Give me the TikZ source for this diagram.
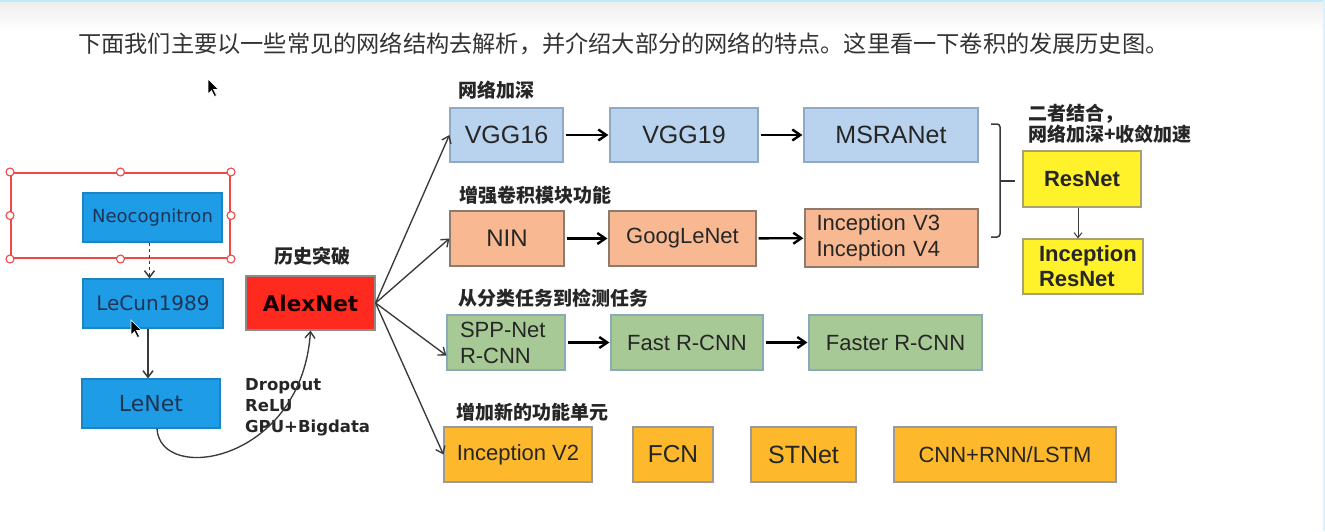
\documentclass[tikz,border=0pt]{standalone}
\usepackage{fontspec}
\setmainfont{Liberation Sans}
\newfontfamily\cjk{Noto Sans CJK SC}
\newfontfamily\dvs{DejaVu Sans}
\usetikzlibrary{arrows.meta}
\definecolor{leblue}{HTML}{1E9CE6}
\definecolor{letext}{HTML}{1F3454}
\definecolor{alexred}{HTML}{FF2A1F}
\definecolor{vggfill}{HTML}{B9D3EE}
\definecolor{vggline}{HTML}{8FA9C6}
\definecolor{ninfill}{HTML}{F8B992}
\definecolor{ninline}{HTML}{8E7B70}
\definecolor{sppfill}{HTML}{A7C995}
\definecolor{sppline}{HTML}{8AAAB8}
\definecolor{newfill}{HTML}{FDB92B}
\definecolor{newline}{HTML}{9A9A9A}
\definecolor{resfill}{HTML}{FFF12A}
\definecolor{resline}{HTML}{A8A070}
\definecolor{selred}{HTML}{F04848}
\definecolor{darkline}{HTML}{3A3A3A}

\begin{document}
\begin{tikzpicture}[x=1pt,y=-1pt,
  box/.style={line width=1.2pt, inner sep=0pt, align=center, text=black!85,
    font=\fontsize{22}{26}\selectfont},
  lebox/.style={box, fill=leblue, draw=leblue!85!black, text=letext, font=\dvs\fontsize{#1}{22}\selectfont},
  vggbox/.style={box, fill=vggfill, draw=vggline, font=\fontsize{25}{28}\selectfont},
  ninbox/.style={box, fill=ninfill, draw=ninline},
  sppbox/.style={box, fill=sppfill, draw=sppline},
  newbox/.style={box, fill=newfill, draw=newline},
  resbox/.style={box, fill=resfill, draw=resline, font=\bfseries\fontsize{22}{25}\selectfont},
  grouplabel/.style={anchor=west, inner sep=0pt, text=black!85, font=\cjk\bfseries\fontsize{19}{22}\selectfont},
  rowarr/.style={-{Straight Barb[length=8pt,width=11pt]}, line width=2.4pt, shorten <=2pt, shorten >=1pt},
  thinarr/.style={-{Straight Barb[length=6.5pt,width=10pt]}, line width=1.35pt, darkline},
  handle/.style={draw=selred, fill=white, line width=1.1pt}]
 \useasboundingbox (0,0) rectangle (1325,531);
 \fill[white] (0,0) rectangle (1325,531);
 \shade[top color=black!7, bottom color=white] (0,0) rectangle (1325,32);
 \fill[cyan!25] (0,0) rectangle (1325,2);
 \fill[cyan!15] (1323,0) rectangle (1325,531);

 % caption line
 \node[anchor=west, inner sep=0pt, text=black!80, font=\cjk\fontsize{23.2}{26}\selectfont] (title) at (78,44)
   {下面我们主要以一些常见的网络结构去解析，并介绍大部分的网络的特点。这里看一下卷积的发展历史图。};

 % early networks
 \node[lebox=18, minimum width=139, minimum height=49] (neo) at (152.5,217.5) {Neocognitron};
 \node[lebox=20, minimum width=140, minimum height=49] (lecun) at (153,303.5) {LeCun1989};
 \node[lebox=22, minimum width=138, minimum height=49] (lenet) at (151,403.5) {LeNet};
 \node[draw=selred, line width=2pt, minimum width=219, minimum height=85] (sel) at (120.5,215.5) {};
 \foreach \a in {north west,north,north east,east,south east,south,south west,west}
  \draw[handle] (sel.\a) circle (4);
 \draw[thinarr, dashed, line width=1.5pt] (neo.south) ++(-3,0) coordinate (neoout) -- (lecun.north -| neoout);
 \draw[thinarr, line width=1.5pt] ([xshift=-5pt]lecun.south) -- ([xshift=-3pt]lenet.north);

 % breakthrough
 \node[box, fill=alexred, draw=black!45, text=black!90!red, minimum width=129, minimum height=54,
   font=\dvs\bfseries\fontsize{21.5}{24}\selectfont] (alex) at (310.5,303) {AlexNet};
 \node[grouplabel, anchor=center] (breaklabel) at (312,256) {历史突破};
 \node[anchor=west, align=left, inner sep=0pt, text=black!85, font=\dvs\bfseries\fontsize{16.5}{21}\selectfont]
   (tricks) at (245,407) {Dropout\\ReLU\\GPU+Bigdata};
 \draw[thinarr] ([xshift=6pt]lenet.south) .. controls (160,485) and (302,462) .. (alex.south);

 % four branches
 \node[grouplabel] (deeplabel) at (458,90) {网络加深};
 \node[vggbox, minimum width=113, minimum height=54] (vgg16) at (506.5,135) {VGG16};
 \node[vggbox, minimum width=148, minimum height=54] (vgg19) at (684,135) {VGG19};
 \node[vggbox, minimum width=174, minimum height=54] (msra) at (891,135) {MSRANet};

 \node[grouplabel] (convlabel) at (459,195) {增强卷积模块功能};
 \node[ninbox, minimum width=114, minimum height=55, font=\fontsize{24}{27}\selectfont] (nin) at (507,238.5) {NIN};
 \node[ninbox, minimum width=147, minimum height=55] (google) at (682.5,238.5) {GoogLeNet};
 \node[ninbox, minimum width=173, minimum height=58, align=left, text width=150] (incep34) at (891.5,238) {Inception V3\\Inception V4};

 \node[grouplabel] (detlabel) at (458,298) {从分类任务到检测任务};
 \node[sppbox, minimum width=118, minimum height=55, align=left, text width=92] (spp) at (506,342.5) {SPP-Net\\R-CNN};
 \node[sppbox, minimum width=152, minimum height=55] (fast) at (687,342.5) {Fast R-CNN};
 \node[sppbox, minimum width=173, minimum height=55] (faster) at (895.5,342.5) {Faster R-CNN};

 \node[grouplabel] (unitlabel) at (456,412) {增加新的功能单元};
 \node[newbox, minimum width=148, minimum height=55] (incep2) at (518,454.5) {Inception V2};
 \node[newbox, minimum width=80, minimum height=55, font=\fontsize{24.5}{27}\selectfont] (fcn) at (673,454.5) {FCN};
 \node[newbox, minimum width=105, minimum height=55, font=\fontsize{25}{27}\selectfont] (stnet) at (803.5,454.5) {STNet};
 \node[newbox, minimum width=222, minimum height=55] (cnnrnn) at (1005,454.5) {CNN+RNN/LSTM};

 \foreach \a/\b in {vgg16/vgg19,vgg19/msra,nin/google,google/incep34,spp/fast,fast/faster}
  \draw[rowarr] (\a) -- (\b);
 \foreach \t in {vgg16,nin,incep2}
  \draw[thinarr] (alex.east) -- (\t.west);
 \draw[thinarr] (alex.east) -- ([yshift=-13pt]spp.west);

 % combination
 \draw[darkline, line width=1.5pt, rounded corners=3pt] (991,124) -- (1000,124) -- (1000,237) -- (991,237);
 \draw[darkline, line width=1.5pt] (1000,181) -- (1015,181);
 \node[grouplabel] (combo1) at (1028,114) {二者结合，};
 \node[grouplabel] (combo2) at (1028,134) {网络加深+收敛加速};
 \node[resbox, minimum width=118, minimum height=56] (resnet) at (1082,179) {ResNet};
 \node[resbox, minimum width=120, minimum height=55, align=left, text width=88] (incres) at (1083,266.5) {Inception\\ResNet};
 \draw[-{Straight Barb[length=5pt,width=8pt]}, darkline, line width=1pt] (resnet.south -| 1078,0) -- (incres.north -| 1078,0);

 % pointers
 \filldraw[fill=black, draw=white, line width=0.6pt] (208,79) -- ++(0,15) -- ++(3.5,-3.5) -- ++(3,6) -- ++(2,-1) -- ++(-3,-6) -- ++(5,0) -- cycle;
 \filldraw[fill=black, draw=white, line width=0.6pt] (131,320) -- ++(0,15) -- ++(3.5,-3.5) -- ++(3,6) -- ++(2,-1) -- ++(-3,-6) -- ++(5,0) -- cycle;
\end{tikzpicture}
\end{document}
